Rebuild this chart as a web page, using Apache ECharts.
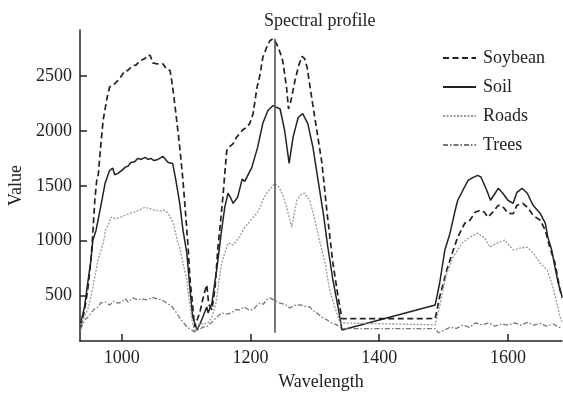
<!DOCTYPE html>
<html>
<head>
<meta charset="utf-8">
<script src="https://cdn.jsdelivr.net/npm/echarts@6/dist/echarts.min.js"></script>
<style>
  html, body { margin: 0; padding: 0; background: #fff; }
  #chart { width: 563px; height: 394px; }
</style>
</head>
<body>
<div id="chart"></div>
<script>
// 光谱曲线数据 [波长, 值]
var soybean = [[936,214],[942,368],[947,550],[952,823],[955,1068],[958,1368],[961,1550],[963,1577],[965,1560],[967,1850],[971,2100],[977,2300],[981,2400],[989,2430],[994,2460],[998,2490],[1005,2550],[1009,2550],[1017,2595],[1022,2600],[1028,2640],[1036,2660],[1040,2690],[1044,2690],[1048,2620],[1054,2612],[1064,2610],[1070,2560],[1075,2550],[1079,2400],[1084,2160],[1090,1850],[1095,1550],[1099,1250],[1103,941],[1106,640],[1110,420],[1113,214],[1121,341],[1128,520],[1132,597],[1135,420],[1140,368],[1145,578],[1149,915],[1153,1150],[1157,1395],[1160,1610],[1163,1820],[1168,1860],[1173,1885],[1178,1940],[1183,1976],[1188,2010],[1194,2031],[1199,2070],[1204,2158],[1210,2395],[1215,2520],[1219,2668],[1225,2760],[1230,2822],[1235,2840],[1240,2800],[1245,2730],[1250,2640],[1256,2395],[1259,2200],[1263,2280],[1269,2458],[1275,2600],[1280,2680],[1284,2660],[1288,2577],[1295,2304],[1303,2004],[1311,1704],[1319,1250],[1328,795],[1336,490],[1342,288],[1487,290],[1494,490],[1505,732],[1515,915],[1522,1032],[1533,1159],[1541,1186],[1549,1259],[1557,1277],[1563,1260],[1569,1214],[1575,1250],[1585,1323],[1592,1310],[1600,1250],[1608,1245],[1614,1323],[1623,1340],[1631,1300],[1639,1232],[1650,1186],[1658,1095],[1665,941],[1673,795],[1681,550],[1684,480]];

var soil = [[936,250],[942,395],[947,613],[952,823],[955,1005],[960,1095],[963,1095],[967,1305],[974,1522],[981,1641],[986,1660],[989,1600],[994,1613],[1000,1640],[1005,1668],[1010,1680],[1014,1713],[1020,1720],[1025,1750],[1030,1740],[1036,1759],[1041,1740],[1045,1750],[1050,1730],[1056,1740],[1064,1768],[1068,1740],[1072,1713],[1079,1704],[1084,1550],[1090,1340],[1095,1095],[1101,886],[1106,550],[1110,305],[1117,186],[1124,277],[1132,395],[1134,341],[1140,432],[1148,760],[1152,950],[1155,1095],[1160,1305],[1165,1432],[1170,1380],[1173,1340],[1180,1396],[1187,1560],[1191,1540],[1194,1522],[1202,1668],[1211,1850],[1219,2067],[1227,2186],[1235,2231],[1241,2213],[1246,2200],[1253,2004],[1260,1704],[1266,1941],[1274,2122],[1281,2158],[1289,2067],[1297,1850],[1305,1550],[1313,1250],[1320,945],[1328,641],[1336,395],[1342,186],[1487,414],[1494,616],[1502,915],[1510,1068],[1518,1277],[1522,1368],[1530,1459],[1538,1550],[1546,1577],[1553,1595],[1558,1580],[1561,1568],[1567,1459],[1573,1368],[1580,1432],[1585,1477],[1592,1432],[1600,1368],[1608,1340],[1614,1440],[1622,1477],[1630,1432],[1639,1323],[1650,1250],[1658,1159],[1662,1032],[1668,915],[1673,760],[1678,616],[1684,490]];

var roads = [[936,230],[941,300],[947,368],[952,487],[958,668],[963,823],[971,978],[975,1100],[980,1159],[983,1214],[990,1200],[998,1214],[1005,1230],[1014,1250],[1020,1260],[1028,1280],[1036,1305],[1039,1300],[1045,1290],[1051,1277],[1060,1270],[1065,1280],[1070,1260],[1075,1220],[1080,1159],[1087,978],[1090,941],[1095,795],[1101,641],[1105,450],[1109,277],[1113,168],[1117,200],[1121,250],[1127,240],[1134,250],[1140,305],[1146,420],[1149,550],[1155,795],[1165,978],[1173,960],[1178,1000],[1183,1032],[1191,1123],[1197,1160],[1204,1214],[1210,1250],[1215,1305],[1220,1380],[1225,1432],[1233,1487],[1238,1522],[1244,1490],[1250,1420],[1256,1305],[1264,1123],[1268,1250],[1272,1368],[1278,1420],[1284,1432],[1292,1368],[1300,1186],[1308,978],[1316,795],[1323,550],[1331,395],[1339,250],[1342,232],[1487,232],[1494,400],[1498,522],[1505,705],[1515,851],[1529,978],[1541,1032],[1553,1068],[1564,1023],[1572,941],[1583,978],[1595,1005],[1608,915],[1619,932],[1630,941],[1639,887],[1650,796],[1661,732],[1668,614],[1676,432],[1681,305],[1684,260]];

var trees = [[936,190],[942,277],[947,300],[952,341],[958,380],[963,395],[967,432],[975,440],[981,414],[988,450],[994,430],[1000,441],[1005,470],[1010,440],[1017,478],[1025,460],[1030,470],[1039,460],[1047,480],[1055,470],[1062,460],[1070,430],[1078,400],[1085,341],[1092,280],[1101,214],[1113,168],[1120,190],[1127,214],[1132,214],[1140,259],[1148,305],[1155,341],[1163,330],[1170,341],[1177,370],[1183,368],[1190,395],[1197,370],[1204,370],[1210,410],[1215,432],[1220,420],[1225,460],[1230,478],[1236,460],[1245,432],[1253,420],[1261,386],[1268,410],[1277,414],[1285,400],[1292,396],[1298,360],[1303,341],[1311,300],[1319,277],[1326,250],[1334,232],[1342,197],[1487,197],[1492,160],[1500,180],[1510,210],[1520,200],[1530,230],[1540,210],[1550,250],[1560,230],[1570,250],[1580,220],[1590,240],[1600,230],[1610,250],[1620,230],[1630,255],[1640,230],[1650,245],[1660,220],[1670,240],[1680,210],[1684,200]];

var xTicks = [1000, 1200, 1400, 1600];
var yTicks = [500, 1000, 1500, 2000, 2500];
var profileX = 1237;
var profileY = [160, 2840];

var font = 'Liberation Serif';

var chart = echarts.init(document.getElementById('chart'));

var option = {
  animation: false,
  title: {
    text: 'Spectral profile',
    left: 259,
    top: 7,
    textStyle: { fontFamily: font, fontSize: 18, fontWeight: 'normal', color: '#222' }
  },
  legend: {
    orient: 'vertical',
    left: 437,
    top: 44,
    itemWidth: 33,
    itemHeight: 14,
    itemGap: 11,
    itemStyle: { opacity: 0 },
    textStyle: { fontFamily: font, fontSize: 18, color: '#222', padding: [0, 0, 0, 2] },
    data: ['Soybean', 'Soil', 'Roads', 'Trees']
  },
  grid: { left: 80, right: 1, top: 30, bottom: 53, outerBoundsMode: 'none' },
  xAxis: {
    type: 'value',
    min: 935,
    max: 1684,
    name: 'Wavelength',
    nameLocation: 'middle',
    nameGap: 32,
    nameTextStyle: { fontFamily: font, fontSize: 18, color: '#222' },
    axisLine: { lineStyle: { color: '#222', width: 1.5 } },
    axisTick: { inside: true, length: 7, customValues: xTicks, lineStyle: { color: '#222', width: 1.5 } },
    axisLabel: {
      customValues: xTicks, fontFamily: font, fontSize: 18, color: '#222', margin: 8,
      formatter: function (v) { return String(v); }
    },
    splitLine: { show: false }
  },
  yAxis: {
    type: 'value',
    min: 85,
    max: 2920,
    name: 'Value',
    nameLocation: 'middle',
    nameGap: 55,
    nameTextStyle: { fontFamily: font, fontSize: 18, color: '#222' },
    axisLine: { show: true, lineStyle: { color: '#222', width: 1.5 } },
    axisTick: { show: true, inside: true, length: 7, customValues: yTicks, lineStyle: { color: '#222', width: 1.5 } },
    axisLabel: {
      customValues: yTicks, fontFamily: font, fontSize: 18, color: '#222', margin: 8,
      formatter: function (v) { return String(v); }
    },
    splitLine: { show: false }
  },
  series: [
    {
      name: 'Soybean', type: 'line', data: soybean, showSymbol: false, symbol: 'none',
      lineStyle: { color: '#222', width: 1.7, type: [6, 3.5] }, itemStyle: { color: '#222' },
      markLine: {
        silent: true, symbol: 'none', label: { show: false },
        lineStyle: { color: '#555', width: 1.6, type: 'solid' },
        data: [[{ coord: [profileX, profileY[1]] }, { coord: [profileX, profileY[0]] }]]
      }
    },
    {
      name: 'Soil', type: 'line', data: soil, showSymbol: false, symbol: 'none',
      lineStyle: { color: '#222', width: 1.5, type: 'solid' }, itemStyle: { color: '#222' }
    },
    {
      name: 'Roads', type: 'line', data: roads, showSymbol: false, symbol: 'none',
      lineStyle: { color: '#999', width: 1.3, type: [2, 1.5] }, itemStyle: { color: '#999' }
    },
    {
      name: 'Trees', type: 'line', data: trees, showSymbol: false, symbol: 'none',
      lineStyle: { color: '#777', width: 1.3, type: [5, 2, 1.5, 2] }, itemStyle: { color: '#777' }
    }
  ]
};

chart.setOption(option);
</script>
</body>
</html>
